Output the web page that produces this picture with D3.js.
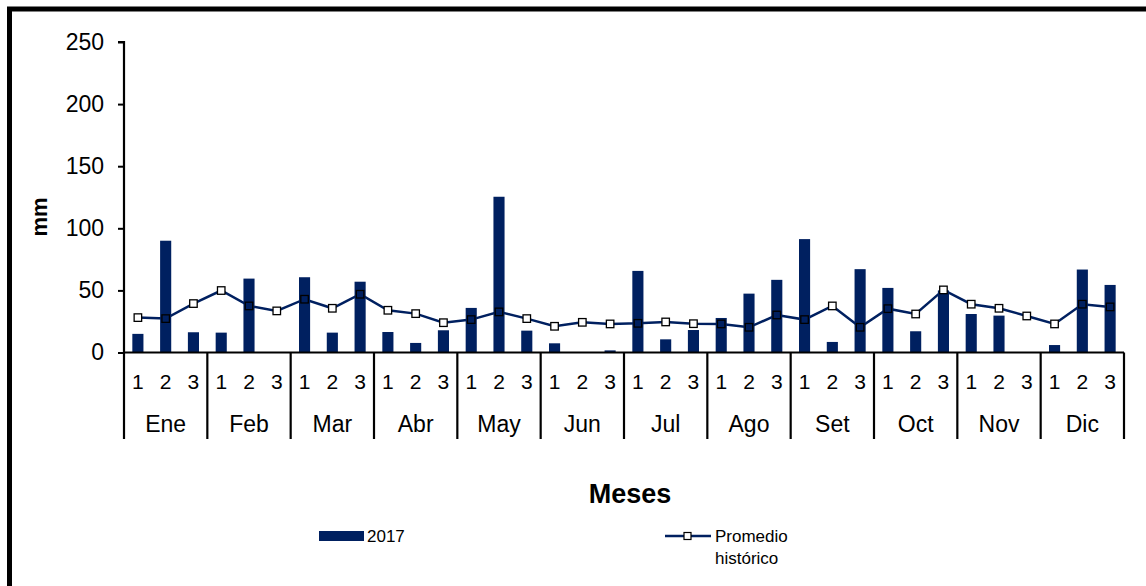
<!DOCTYPE html>
<html>
<head>
<meta charset="utf-8">
<script src="https://cdn.jsdelivr.net/npm/d3@7"></script>
<style>
  body { margin: 0; background: #fff; }
  svg { display: block; font-family: Arial, 'Liberation Sans', sans-serif; }
</style>
</head>
<body>
<svg id="chart" width="1146" height="586"></svg>
<script>
const months = ['Ene', 'Feb', 'Mar', 'Abr', 'May', 'Jun', 'Jul', 'Ago', 'Set', 'Oct', 'Nov', 'Dic']
const decades = ['1', '2', '3']
const rain2017 = [
  15, 90, 16.3,   16, 59.5, 0,     60.6, 16, 57,     16.5, 7.7, 17.9,
  35.9, 125.4, 17.6, 7.4, 0, 1.7,  65.7, 10.6, 18.1, 27.8, 47.4, 58.5,
  91.3, 8.5, 67.1, 52, 17.1, 50,   31, 29.7, 0,      6, 66.8, 54.4
]
const historic = [
  28.1, 27.3, 39.4, 49.9, 37.5, 33.5, 42.9, 35.6, 46.9, 34, 31.3, 24,
  26.5, 32.7, 27.3, 21.1, 24.3, 23, 23.5, 24.6, 23.2, 23, 20.3, 30.2,
  26.5, 37.5, 20.3, 35.3, 31, 50.4, 38.9, 35.6, 29.4, 23, 38.9, 36.7
]
const yTicks = [0, 50, 100, 150, 200, 250]

const navy = '#002060'
const svg = d3.select('#chart')
const plotLeft = 124
const plotRight = 1124
const plotTop = 42
const plotBottom = 352.5

// keys: month index + decade
const keys = []
months.forEach((m, i) => decades.forEach(d => keys.push(i + '-' + d)))

let x = d3.scaleBand().domain(keys).range([plotLeft, plotRight])
let xm = d3.scaleBand().domain(months).range([plotLeft, plotRight])
let y = d3.scaleLinear().domain([0, 250]).range([plotBottom, plotTop])

// outer frame (runs off the right and bottom of the picture)
svg.append('rect')
  .attr('x', 9.5).attr('y', 9)
  .attr('width', 1160).attr('height', 600)
  .attr('fill', 'none').attr('stroke', '#000').attr('stroke-width', 5)

// bars
let bw = x.bandwidth() * 0.4
svg.append('g')
  .selectAll('rect')
  .data(rain2017)
  .enter()
  .append('rect')
  .attr('x', (d, i) => x(keys[i]) + (x.bandwidth() - bw) / 2)
  .attr('y', d => y(d))
  .attr('width', bw)
  .attr('height', d => plotBottom - y(d))
  .attr('fill', navy)

// y axis
let yAxis = d3.axisLeft(y).tickValues(yTicks).tickSize(6).tickPadding(14)
let ya = svg.append('g')
  .attr('transform', 'translate(' + plotLeft + ',0)')
  .call(yAxis)
ya.select('.domain').attr('stroke', '#000').attr('stroke-width', 2.2).attr('d', 'M-6,' + plotTop + 'H0V' + plotBottom)
ya.selectAll('.tick line').attr('stroke', '#000').attr('stroke-width', 2)
ya.selectAll('.tick text').attr('font-size', 23).attr('fill', '#000').attr('font-family', 'Arial, Liberation Sans, sans-serif')

// x axis baseline
svg.append('line')
  .attr('x1', plotLeft).attr('x2', plotRight)
  .attr('y1', plotBottom).attr('y2', plotBottom)
  .attr('stroke', '#000').attr('stroke-width', 2.2)

// month separators
svg.append('g')
  .selectAll('line')
  .data(months.concat(['end']))
  .enter()
  .append('line')
  .attr('x1', d => d === 'end' ? plotRight : xm(d))
  .attr('x2', d => d === 'end' ? plotRight : xm(d))
  .attr('y1', plotBottom).attr('y2', 439)
  .attr('stroke', '#000').attr('stroke-width', 2.2)

// decade labels
svg.append('g')
  .selectAll('text')
  .data(keys)
  .enter()
  .append('text')
  .attr('x', d => x(d) + x.bandwidth() / 2)
  .attr('y', 389)
  .attr('text-anchor', 'middle')
  .attr('font-size', 21)
  .text(d => d.split('-')[1])

// month labels
svg.append('g')
  .selectAll('text')
  .data(months)
  .enter()
  .append('text')
  .attr('x', d => xm(d) + xm.bandwidth() / 2)
  .attr('y', 432)
  .attr('text-anchor', 'middle')
  .attr('font-size', 23)
  .text(d => d)

// historic average line
let line = d3.line()
  .x((d, i) => x(keys[i]) + x.bandwidth() / 2)
  .y(d => y(d))
svg.append('path')
  .datum(historic)
  .attr('d', line)
  .attr('fill', 'none')
  .attr('stroke', navy)
  .attr('stroke-width', 2.5)

svg.append('g')
  .selectAll('rect')
  .data(historic)
  .enter()
  .append('rect')
  .attr('x', (d, i) => x(keys[i]) + x.bandwidth() / 2 - 3.75)
  .attr('y', d => y(d) - 3.75)
  .attr('width', 7.5).attr('height', 7.5)
  .attr('fill', '#fff')
  .attr('fill-opacity', (d, i) => rain2017[i] > d ? 0 : 1)
  .attr('stroke', '#000').attr('stroke-width', 1.3)

// axis titles
svg.append('text')
  .text('mm')
  .attr('transform', 'translate(47, 217) rotate(-90)')
  .attr('text-anchor', 'middle')
  .attr('font-size', 22)
  .attr('font-weight', 'bold')

svg.append('text')
  .text('Meses')
  .attr('x', 630).attr('y', 503)
  .attr('text-anchor', 'middle')
  .attr('font-size', 27)
  .attr('font-weight', 'bold')

// legend
svg.append('rect')
  .attr('x', 319).attr('y', 531)
  .attr('width', 45).attr('height', 10)
  .attr('fill', navy)
svg.append('text')
  .text('2017')
  .attr('x', 367).attr('y', 542)
  .attr('font-size', 17)

svg.append('line')
  .attr('x1', 665).attr('x2', 711)
  .attr('y1', 536).attr('y2', 536)
  .attr('stroke', navy).attr('stroke-width', 2.5)
svg.append('rect')
  .attr('x', 684).attr('y', 532.5)
  .attr('width', 7).attr('height', 7)
  .attr('fill', '#fff').attr('stroke', '#000').attr('stroke-width', 1.2)
svg.append('text')
  .attr('x', 715).attr('y', 542)
  .attr('font-size', 17)
  .selectAll('tspan')
  .data(['Promedio', 'histórico'])
  .enter()
  .append('tspan')
  .attr('x', 715)
  .attr('dy', (d, i) => i ? 21.5 : 0)
  .text(d => d)
</script>
</body>
</html>
